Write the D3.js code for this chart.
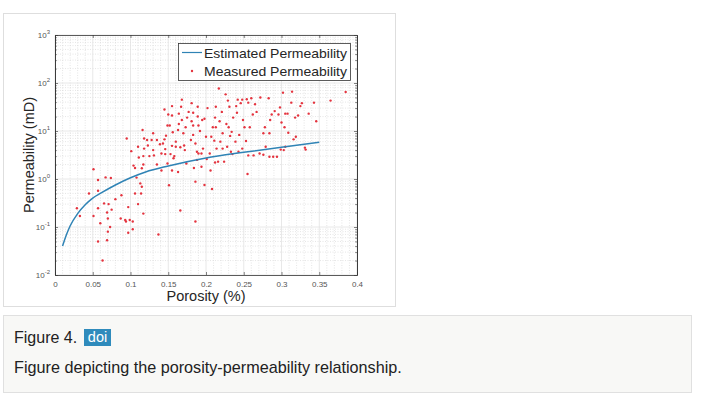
<!DOCTYPE html>
<html><head><meta charset="utf-8">
<script src="https://cdn.jsdelivr.net/npm/d3@7"></script>
<style>
html,body{margin:0;padding:0;background:#fff;}
svg{display:block;font-family:"Liberation Sans",Arial,Helvetica,sans-serif;}
</style></head>
<body>
<svg id="c" width="718" height="394"></svg>
<script>
// ---- data ----
const curvePorosity = [0.01,0.015,0.02,0.03,0.04,0.05,0.06,0.08,0.1,0.12,0.15,0.2,0.25,0.3,0.35];
const curvePerm     = [0.04,0.068,0.105,0.19,0.29,0.4,0.5,0.75,1.06,1.4,1.87,2.75,3.6,4.6,5.8];

const measPorosity = [0.029,0.033,0.045,0.051,0.051,0.057,0.057,0.057,0.057,0.06,0.063,0.065,0.067,0.069,0.069,0.07,0.07,0.071,0.074,0.073,0.075,0.08,0.087,0.088,0.093,0.095,0.094,0.097,0.097,0.099,0.101,0.103,0.103,0.106,0.104,0.106,0.108,0.11,0.11,0.111,0.113,0.115,0.114,0.115,0.116,0.117,0.117,0.117,0.118,0.118,0.122,0.123,0.125,0.128,0.13,0.13,0.131,0.135,0.135,0.137,0.139,0.141,0.141,0.143,0.145,0.145,0.146,0.146,0.147,0.149,0.149,0.15,0.151,0.152,0.153,0.155,0.155,0.155,0.155,0.156,0.157,0.158,0.16,0.16,0.163,0.163,0.164,0.164,0.166,0.166,0.167,0.168,0.168,0.17,0.171,0.172,0.173,0.174,0.175,0.177,0.18,0.181,0.181,0.183,0.183,0.183,0.184,0.186,0.186,0.186,0.188,0.188,0.189,0.189,0.19,0.19,0.192,0.194,0.194,0.195,0.196,0.198,0.198,0.2,0.201,0.202,0.205,0.206,0.207,0.208,0.209,0.211,0.212,0.212,0.213,0.213,0.214,0.216,0.217,0.218,0.219,0.221,0.222,0.222,0.224,0.226,0.227,0.228,0.229,0.23,0.231,0.232,0.233,0.234,0.235,0.236,0.239,0.24,0.241,0.242,0.243,0.244,0.246,0.248,0.248,0.249,0.251,0.253,0.254,0.255,0.256,0.256,0.258,0.26,0.262,0.263,0.265,0.267,0.271,0.272,0.276,0.276,0.278,0.279,0.283,0.284,0.284,0.285,0.287,0.289,0.291,0.294,0.296,0.298,0.299,0.3,0.302,0.303,0.304,0.305,0.305,0.308,0.309,0.313,0.314,0.316,0.318,0.319,0.322,0.325,0.327,0.331,0.332,0.336,0.343,0.346,0.365,0.385];
const measPerm = [0.245,0.17,0.5,1.6,0.17,0.95,0.57,0.245,0.05,0.12,0.02,0.31,1.08,0.2,0.053,0.15,0.08,0.3,1.05,0.1,0.23,0.38,0.15,0.46,0.14,7,0.13,0.26,0.076,0.14,3.8,0.09,0.13,0.5,1.9,1.7,1.07,4.7,0.3,2.8,0.81,1.67,0.5,0.69,10.5,2,3,0.19,7,4.3,6.5,5,3,6.5,9,4,3.1,6.5,2,0.07,5.3,3.4,1.5,5.5,28,6.7,4.2,3.3,8,13,2.1,22,0.74,13,3.3,33,21,4.9,1.5,9.4,2.7,3,6,4.7,10.5,1.4,14,23,0.22,4.6,32,45,17,9,5,4,12,2.1,19,25,6.5,38,16,24,13,8.3,1.7,0.88,0.13,5.5,2.5,3.7,32,20,13,3.4,10,3.4,1.8,17,4.3,0.75,18,7.6,2.6,30,3.4,1.5,7.6,0.62,12,6.3,19,2.2,32,12,4.3,2.3,77,16,6,25,9,4.3,2.3,58,14,4.7,43,12,32,7.9,3.7,9.6,3.3,19,6,33,24,45,3.7,8.3,38,45,4.3,17,12,6.2,46,1.27,3.1,39,12,48,22,3.1,36,25,3.4,50,9,3.2,12,4.7,48,9,2.9,17,22,2.9,26,2.9,22,31,4.1,15,63,4,12,4.7,23,23,9.2,39,66,6.7,19,7.6,21,33,38,4.5,4.1,23,39,16,43,65];

const xTicks = [0,0.05,0.1,0.15,0.2,0.25,0.3,0.35,0.4];
const xTickLabels = ["0","0.05","0.1","0.15","0.2","0.25","0.3","0.35","0.4"];
const yTicks = [0.01,0.1,1,10,100,1000];
const yTickExps = ["-2","-1","0","1","2","3"];

const legendLabels = ["Estimated Permeability","Measured Permeability"];
const xLabel = "Porosity (%)";
const yLabel = "Permeability (mD)";
const figTitle = "Figure 4.";
const badgeText = "doi";
const captionText = "Figure depicting the porosity-permeability relationship.";

// ---- drawing ----
const svg = d3.select("#c");
const L=55, R=357, T=35, B=275;
const x = d3.scaleLinear().domain([0,0.4]).range([L,R]);
const y = d3.scaleLog().domain([0.01,1000]).range([B,T]);

// figure frame
svg.append("rect").attr("x",3.5).attr("y",13.5).attr("width",392).attr("height",293)
  .attr("fill","#fff").attr("stroke","#dedede");

// caption box
svg.append("rect").attr("x",3.5).attr("y",315.5).attr("width",688).attr("height",77)
  .attr("fill","#f8f8f6").attr("stroke","#e0e0e0");
svg.append("text").attr("x",14).attr("y",343).attr("font-size",16).attr("fill","#222").text(figTitle);
svg.append("rect").attr("x",84).attr("y",329).attr("width",27).attr("height",17).attr("fill","#2f8bbc");
svg.append("text").attr("x",97.5).attr("y",342).attr("text-anchor","middle").attr("font-size",14.5)
  .attr("fill","#fff").text(badgeText);
svg.append("text").attr("x",14).attr("y",373).attr("font-size",16.2).attr("fill","#222").text(captionText);

// plot background
svg.append("rect").attr("x",L).attr("y",T).attr("width",R-L).attr("height",B-T).attr("fill","#fff");

const g = svg.append("g");
// minor grid x
const xMinor = d3.range(0,41).map(i=>i/100).filter(v=>Math.round(v*100)%5!==0);
g.selectAll(".gxm").data(xMinor).join("line")
  .attr("x1",d=>x(d)).attr("x2",d=>x(d)).attr("y1",T).attr("y2",B)
  .attr("stroke","#d4d4d4").attr("stroke-width",0.6).attr("stroke-dasharray","1,1.5");
// minor grid y
const yMinor = [];
[0.01,0.1,1,10,100].forEach(dec=>{for(let k=2;k<=9;k++) yMinor.push(dec*k);});
g.selectAll(".gym").data(yMinor).join("line")
  .attr("x1",L).attr("x2",R).attr("y1",d=>y(d)).attr("y2",d=>y(d))
  .attr("stroke","#d4d4d4").attr("stroke-width",0.6).attr("stroke-dasharray","1,1.5");
// major grid
g.selectAll(".gx").data(xTicks).join("line")
  .attr("x1",d=>x(d)).attr("x2",d=>x(d)).attr("y1",T).attr("y2",B)
  .attr("stroke","#e2e2e2").attr("stroke-width",0.8);
g.selectAll(".gy").data(yTicks).join("line")
  .attr("x1",L).attr("x2",R).attr("y1",d=>y(d)).attr("y2",d=>y(d))
  .attr("stroke","#e2e2e2").attr("stroke-width",0.8);

// axes
const axCol = "#333";
const xb = svg.append("g").attr("transform",`translate(0,${B})`)
  .call(d3.axisBottom(x).tickValues(xTicks).tickFormat((d,i)=>xTickLabels[i]).tickSizeInner(-3).tickSizeOuter(0).tickPadding(6));
const xt = svg.append("g").attr("transform",`translate(0,${T})`)
  .call(d3.axisTop(x).tickValues(xTicks).tickFormat("").tickSizeInner(-3).tickSizeOuter(0));
const yl = svg.append("g").attr("transform",`translate(${L},0)`)
  .call(d3.axisLeft(y).tickValues(yTicks).tickFormat("").tickSizeInner(-3).tickSizeOuter(0));
const yr = svg.append("g").attr("transform",`translate(${R},0)`)
  .call(d3.axisRight(y).tickValues(yTicks).tickFormat("").tickSizeInner(-3).tickSizeOuter(0));
const ylm = svg.append("g").attr("transform",`translate(${L},0)`)
  .call(d3.axisLeft(y).tickValues(yMinor).tickFormat("").tickSizeInner(-1.8).tickSizeOuter(0));
const yrm = svg.append("g").attr("transform",`translate(${R},0)`)
  .call(d3.axisRight(y).tickValues(yMinor).tickFormat("").tickSizeInner(-1.8).tickSizeOuter(0));
[xb,xt,yl,yr,ylm,yrm].forEach(a=>{
  a.select(".domain").attr("stroke",axCol).attr("stroke-width",0.8);
  a.selectAll(".tick line").attr("stroke",axCol).attr("stroke-width",0.6);
});
xb.selectAll(".tick text").attr("font-size",8).attr("fill","#555").attr("font-family","Liberation Sans, Arial, sans-serif");

// y tick labels with superscript
const ylab = svg.append("g");
yTicks.forEach((v,i)=>{
  const t = ylab.append("text").attr("x",L-5).attr("y",y(v)+3).attr("text-anchor","end")
    .attr("font-size",8).attr("fill","#555");
  t.append("tspan").text("10");
  t.append("tspan").attr("dy",-4).attr("font-size",6).text(yTickExps[i]);
});

// axis labels
svg.append("text").attr("x",(L+R)/2).attr("y",301).attr("text-anchor","middle")
  .attr("font-size",14.5).attr("fill","#262626").text(xLabel);
svg.append("text").attr("transform",`translate(34,${(T+B)/2}) rotate(-90)`).attr("text-anchor","middle")
  .attr("font-size",14.5).attr("fill","#262626").text(yLabel);

// points
const pts = measPorosity.map((p,i)=>({p,k:measPerm[i]}));
svg.append("g").selectAll("circle").data(pts).join("circle")
  .attr("cx",d=>x(d.p)).attr("cy",d=>y(d.k)).attr("r",1.2).attr("fill","#e4343f");

// curve
const cdata = curvePorosity.map((p,i)=>({p,k:curvePerm[i]}));
svg.append("path").datum(cdata)
  .attr("d",d3.line().x(d=>x(d.p)).y(d=>y(d.k)).curve(d3.curveMonotoneX))
  .attr("fill","none").attr("stroke","#2f83b5").attr("stroke-width",1.5);

// legend
const lg = svg.append("g");
lg.append("rect").attr("x",178.5).attr("y",43.5).attr("width",172).attr("height",37)
  .attr("fill","#fff").attr("stroke","#333").attr("stroke-width",0.8);
lg.append("line").attr("x1",182).attr("x2",202).attr("y1",52.5).attr("y2",52.5)
  .attr("stroke","#2f83b5").attr("stroke-width",1.2);
lg.append("circle").attr("cx",192).attr("cy",71).attr("r",1.2).attr("fill","#e4343f");
legendLabels.forEach((s,i)=>{
  lg.append("text").attr("x",204).attr("y",[57.5,76][i]).attr("font-size",13.5)
    .attr("fill","#262626").attr("textLength",143).attr("lengthAdjust","spacingAndGlyphs").text(s);
});
</script>
</body></html>
